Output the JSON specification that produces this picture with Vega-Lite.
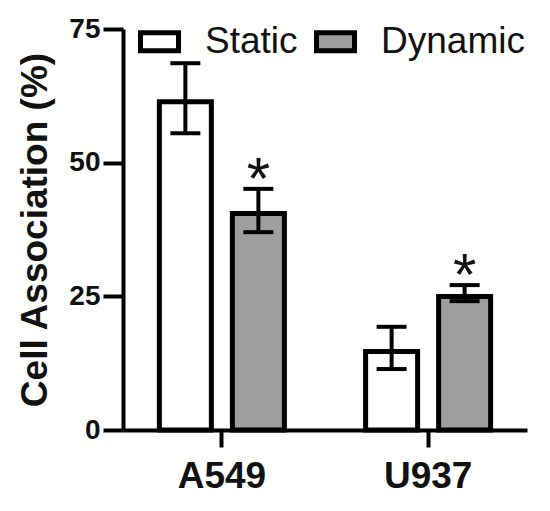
{
  "$schema": "https://vega.github.io/schema/vega-lite/v6.json",
  "width": 404,
  "height": 401,
  "autosize": {"type": "none"},
  "padding": {"left": 123, "top": 29, "right": 23, "bottom": 81},
  "background": "white",
  "config": {
    "view": {"stroke": null},
    "font": "Liberation Sans",
    "axis": {"domainColor": "black", "tickColor": "black", "labelColor": "#111", "titleColor": "#111", "grid": false, "labelFont": "Liberation Sans", "titleFont": "Liberation Sans"}
  },
  "data": {
    "values": [
      {"cell": "A549", "condition": "Static", "mean": 61.4, "lo": 55.5, "hi": 68.6, "sig": ""},
      {"cell": "A549", "condition": "Dynamic", "mean": 40.5, "lo": 37.0, "hi": 45.1, "sig": "*"},
      {"cell": "U937", "condition": "Static", "mean": 14.7, "lo": 11.4, "hi": 19.3, "sig": ""},
      {"cell": "U937", "condition": "Dynamic", "mean": 24.95, "lo": 24.1, "hi": 27.1, "sig": "*"}
    ]
  },
  "encoding": {
    "x": {
      "field": "cell", "type": "nominal", "sort": ["A549", "U937"],
      "scale": {"paddingInner": 0.292, "paddingOuter": 0.1254},
      "axis": {"title": null, "labelAngle": 0, "labelFontSize": 37, "labelFontWeight": "bold", "tickSize": 17, "tickWidth": 4, "domainWidth": 4, "labelPadding": 11}
    },
    "xOffset": {
      "field": "condition", "type": "nominal", "sort": ["Static", "Dynamic"],
      "scale": {"paddingInner": 0.2877, "paddingOuter": 0.1438}
    }
  },
  "layer": [
    {
      "mark": {"type": "bar", "stroke": "black", "strokeWidth": 5},
      "encoding": {
        "y": {
          "field": "mean", "type": "quantitative",
          "scale": {"domain": [0, 75], "nice": false},
          "axis": {"title": "Cell Association (%)", "titleFontSize": 37, "titleFontWeight": "bold", "titlePadding": 14, "values": [0, 25, 50, 75], "labelFontSize": 28, "labelFontWeight": "bold", "tickSize": 20, "tickWidth": 4, "domainWidth": 4, "labelPadding": 3}
        },
        "fill": {
          "field": "condition", "type": "nominal", "sort": ["Static", "Dynamic"],
          "scale": {"domain": ["Static", "Dynamic"], "range": ["white", "#9e9e9e"]},
          "legend": {
            "title": null, "orient": "none", "direction": "horizontal", "legendX": 15, "legendY": -9,
            "symbolType": "M-1,-0.47H1V0.47H-1Z", "symbolSize": 1444, "symbolStrokeColor": "black", "symbolStrokeWidth": 5,
            "labelFontSize": 37, "labelFont": "Liberation Sans", "labelColor": "#111", "labelOffset": 24, "columnPadding": 8, "padding": 0
          }
        }
      }
    },
    {
      "mark": {"type": "rule", "strokeWidth": 4, "color": "black"},
      "encoding": {
        "y": {"field": "lo", "type": "quantitative"},
        "y2": {"field": "hi"}
      }
    },
    {
      "mark": {"type": "tick", "thickness": 4, "size": 30, "color": "black", "opacity": 1},
      "encoding": {"y": {"field": "lo", "type": "quantitative"}}
    },
    {
      "mark": {"type": "tick", "thickness": 4, "size": 30, "color": "black", "opacity": 1},
      "encoding": {"y": {"field": "hi", "type": "quantitative"}}
    },
    {
      "mark": {"type": "text", "fontSize": 60, "baseline": "alphabetic", "dy": 10, "color": "#111"},
      "encoding": {
        "y": {"field": "hi", "type": "quantitative"},
        "text": {"field": "sig"}
      }
    }
  ]
}
